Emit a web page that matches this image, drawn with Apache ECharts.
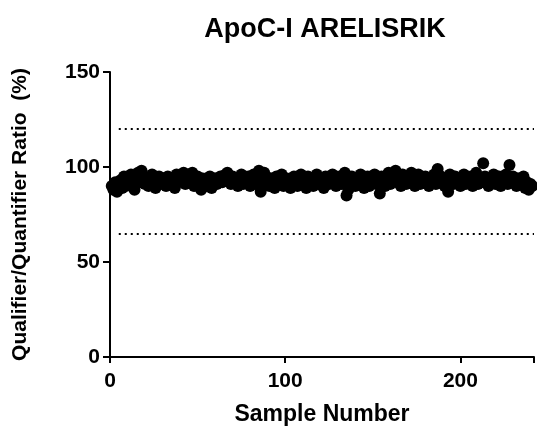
<!DOCTYPE html>
<html><head><meta charset="utf-8">
<script src="https://cdn.jsdelivr.net/npm/echarts@6/dist/echarts.min.js"></script>
<style>html,body{margin:0;padding:0;background:#fff}#c{width:537px;height:433px}</style>
</head><body><div id="c"></div>
<script>
const title = "ApoC-I ARELISRIK";
const xName = "Sample Number";
const yName = "Qualifier/Quantifier Ratio  (%)";
const ratios = [
 90,88,92,87,91,93,89,95,90,92,94,96,91,88,93,97,92,98,95,91,
 93,90,94,96,92,89,93,95,91,94,92,90,95,93,91,94,89,96,92,93,
 95,97,91,94,96,92,97,90,93,95,91,88,94,92,90,93,95,89,92,94,
 91,93,95,92,94,96,97,93,91,95,92,94,90,93,96,91,94,92,95,90,
 93,96,91,94,98,87,92,97,95,93,90,94,92,89,95,91,93,96,90,92,
 94,91,89,93,95,92,90,94,96,91,93,89,95,92,94,90,93,96,91,94,
 92,89,95,93,91,94,96,92,90,93,95,91,94,97,85,88,93,95,92,90,
 94,91,96,93,89,92,95,90,94,92,96,91,93,86,95,92,90,94,97,91,
 93,95,98,92,94,90,96,93,91,95,92,97,94,90,93,96,91,94,92,95,
 93,90,94,92,96,91,99,93,95,92,90,94,87,96,93,91,95,92,94,90,
 93,96,91,94,92,95,90,93,97,91,94,92,102,95,93,90,94,92,96,91,
 93,95,90,94,92,96,91,101,93,95,92,90,94,91,93,95,89,92,88,91,90
];
const sampleNumbers = ratios.map((v, i) => i + 1);
const limits = [120, 65];
const xTicks = [0, 100, 200];
const yTicks = [0, 50, 100, 150];

const FONT = "'Liberation Sans', Arial, sans-serif";
const chart = echarts.init(document.getElementById('c'), null, {renderer: 'canvas'});
chart.setOption({
  animation: false,
  backgroundColor: '#fff',
  title: {
    text: title, left: 320, top: 11, textAlign: 'center',
    textStyle: {fontFamily: FONT, fontWeight: 'bold', fontSize: 27, color: '#000'}
  },
  grid: {left: 110, right: 0, top: 72, bottom: 76, containLabel: false},
  xAxis: {
    type: 'value', min: 0, max: 242, interval: 100,
    name: xName, nameLocation: 'middle', nameGap: 46,
    nameTextStyle: {fontFamily: FONT, fontWeight: 'bold', fontSize: 23, color: '#000'},
    axisLine: {onZero: false, lineStyle: {color: '#000', width: 2}},
    axisTick: {show: true, length: 6, lineStyle: {color: '#000', width: 2}},
    axisLabel: {fontFamily: FONT, fontWeight: 'bold', fontSize: 21, color: '#000', margin: 14,
      formatter: v => xTicks.includes(v) ? String(v) : ''},
    splitLine: {show: false}
  },
  yAxis: {
    type: 'value', min: 0, max: 150, interval: 50,
    name: yName, nameLocation: 'middle', nameGap: 79,
    nameTextStyle: {fontFamily: FONT, fontWeight: 'bold', fontSize: 21, color: '#000'},
    axisLine: {onZero: false, lineStyle: {color: '#000', width: 2}},
    axisTick: {show: true, length: 7, lineStyle: {color: '#000', width: 2}},
    axisLabel: {fontFamily: FONT, fontWeight: 'bold', fontSize: 21, color: '#000', margin: 10,
      formatter: v => yTicks.includes(v) ? String(v) : ''},
    splitLine: {show: false}
  },
  series: [{
    type: 'scatter',
    data: sampleNumbers.map((x, i) => [x, ratios[i]]),
    symbol: 'circle', symbolSize: 12,
    itemStyle: {color: '#000', opacity: 1},
    clip: true,
    markLine: {
      silent: true, symbol: 'none', label: {show: false},
      lineStyle: {color: '#000', type: [2, 4], width: 2, opacity: 1},
      data: limits.map(v => [{coord: [5, v]}, {coord: [242, v]}])
    }
  }]
});
</script></body></html>
